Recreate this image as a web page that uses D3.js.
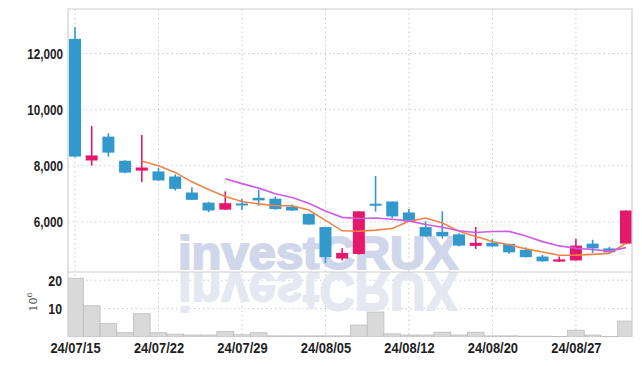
<!DOCTYPE html>
<html>
<head>
<meta charset="utf-8">
<style>
  body { margin: 0; background: #fff; }
  svg { display: block; }
  .tick text { font-family: "Liberation Sans", Arial, sans-serif; font-weight: bold; font-size: 15px; fill: #1e1e1e; }
  .axis .domain { display: none; }
  .grid line { stroke: #c5cade; stroke-dasharray: 1.5,3; }
</style>
</head>
<body>
<script src="https://cdn.jsdelivr.net/npm/d3@7"></script>
<script>

// daily prices
var dates = ["24/07/15","24/07/16","24/07/17","24/07/18","24/07/19",
  "24/07/22","24/07/23","24/07/24","24/07/25","24/07/26",
  "24/07/29","24/07/30","24/07/31","24/08/01","24/08/02",
  "24/08/05","24/08/06","24/08/07","24/08/08","24/08/09",
  "24/08/12","24/08/13","24/08/14","24/08/16",
  "24/08/19","24/08/20","24/08/21","24/08/22","24/08/23",
  "24/08/26","24/08/27","24/08/28","24/08/29","24/08/30"];
var open  = [12520,8190,9040,8180,7830,7800,7620,7050,6690,6440,6660,6860,6830,6550,6290,5820,4700,4860,6650,6730,6340,5820,5650,5560,5150,5260,5220,5010,4770,4590,4630,5230,5060,5230];
var close = [8330,8370,8470,7760,7940,7480,7180,6790,6410,6670,6590,6770,6460,6410,5910,4750,4900,6380,6610,6200,6020,5490,5490,5160,5260,5130,4920,4750,4600,4670,5160,5060,4920,6410];
var high  = [12930,9420,9160,8200,9100,7920,7690,7240,6720,7090,6820,7150,6910,6620,6300,5830,5070,6380,7640,6730,6460,6020,6380,5600,5820,5390,5230,5090,4830,4770,5400,5370,5110,6410];
var low   = [8300,8010,8330,7740,7420,7470,7120,6790,6350,6430,6430,6580,6440,6390,5900,4540,4630,4840,6370,6140,6000,5470,5410,5130,5040,5120,4870,4740,4590,4580,4630,4900,4900,5220];
// volume in millions
var volume = [20.7,11.0,4.7,1.5,8.2,1.5,1.0,0.7,0.7,1.9,0.8,1.5,0.4,0.4,0.4,0.4,0.4,4.2,8.8,1.1,0.7,0.7,1.7,0.7,1.7,0.4,0.4,0.3,0.3,0.2,2.4,0.7,0.2,5.6];

var dateTicks = ["24/07/15","24/07/22","24/07/29","24/08/05","24/08/12","24/08/20","24/08/27"];
var priceTicks = [6000, 8000, 10000, 12000];
var volTicks = [10, 20];

var W = 642, H = 366;
var L = 68, R = 632, T = 9, M = 272, B = 337;

var up = "#e5186b", down = "#3398cc";

var svg = d3.select("body").append("svg").attr("width", W).attr("height", H);

var x = d3.scalePoint().domain(dates).range([75, 626]);
var step = x.step();
var y = d3.scaleLinear().domain([4220, 13584]).range([M, T]);
var yv = d3.scaleLinear().domain([0, 22.9]).range([B, M]);

var defs = svg.append("defs");
defs.append("clipPath").attr("id", "clipMain")
  .append("rect").attr("x", L).attr("y", T).attr("width", R - L).attr("height", M - T);
defs.append("clipPath").attr("id", "clipVol")
  .append("rect").attr("x", L).attr("y", M).attr("width", R - L).attr("height", B - M);

// grids
var grid = svg.append("g").attr("class", "grid");
grid.selectAll(".vg").data(dateTicks).enter().append("line")
  .attr("x1", d => x(d)).attr("x2", d => x(d)).attr("y1", T).attr("y2", B);
grid.selectAll(".hg").data(priceTicks).enter().append("line")
  .attr("x1", L).attr("x2", R).attr("y1", d => y(d)).attr("y2", d => y(d));
grid.selectAll(".vhg").data(volTicks).enter().append("line")
  .attr("x1", L).attr("x2", R).attr("y1", d => yv(d)).attr("y2", d => yv(d));

// watermark + its reflection
var wm = svg.append("g");
wm.append("g").attr("clip-path", "url(#clipVol)")
  .append("text")
  .attr("transform", "translate(318,272.5) scale(1,-1.18)")
  .attr("text-anchor", "middle")
  .attr("textLength", 280).attr("lengthAdjust", "spacingAndGlyphs")
  .style("font-family", "Liberation Sans, Arial, sans-serif").style("font-weight", "bold")
  .style("font-size", "46px").style("fill", "#e5e8f1")
  .style("stroke", "#e5e8f1").style("stroke-width", 1.5)
  .text("investCRUX");
wm.append("g").attr("clip-path", "url(#clipMain)")
  .append("text")
  .attr("x", 318).attr("y", 268.5)
  .attr("text-anchor", "middle")
  .attr("textLength", 280).attr("lengthAdjust", "spacingAndGlyphs")
  .style("font-family", "Liberation Sans, Arial, sans-serif").style("font-weight", "bold")
  .style("font-size", "46px").style("fill", "#d1d7ea")
  .style("stroke", "#d1d7ea").style("stroke-width", 2)
  .text("investCRUX");

// volume bars
svg.append("g").attr("clip-path", "url(#clipVol)")
  .selectAll("rect").data(volume).enter().append("rect")
  .attr("x", (d, i) => x(dates[i]) - step / 2)
  .attr("width", step)
  .attr("y", d => yv(d))
  .attr("height", d => B - yv(d))
  .style("fill", "#d9d9d9").style("stroke", "#bdbdbd").style("stroke-width", 0.8);

// candles
var main = svg.append("g").attr("clip-path", "url(#clipMain)");
var candles = main.selectAll(".c").data(dates).enter().append("g");
candles.append("line")
  .attr("x1", d => x(d)).attr("x2", d => x(d))
  .attr("y1", (d, i) => y(high[i])).attr("y2", (d, i) => y(low[i]))
  .style("stroke", (d, i) => close[i] >= open[i] ? up : down)
  .style("stroke-width", 1.6);
candles.append("rect")
  .attr("x", d => x(d) - 6).attr("width", 12)
  .attr("y", (d, i) => y(Math.max(open[i], close[i])))
  .attr("height", (d, i) => Math.max(2, Math.abs(y(open[i]) - y(close[i]))))
  .style("fill", (d, i) => close[i] >= open[i] ? up : down);

// moving averages
function ma(n) {
  return close.map((c, i) => i < n - 1 ? null : d3.mean(close.slice(i - n + 1, i + 1)));
}
var ma5 = ma(5), ma10 = ma(10);
var line = d3.line().defined(d => d[1] != null).x(d => x(d[0])).y(d => y(d[1]));
main.append("path").datum(dates.map((d, i) => [d, ma5[i]]))
  .attr("d", line).style("fill", "none").style("stroke", "#ef8447").style("stroke-width", 1.6);
main.append("path").datum(dates.map((d, i) => [d, ma10[i]]))
  .attr("d", line).style("fill", "none").style("stroke", "#cc5ce6").style("stroke-width", 1.6);

// frame
svg.append("path")
  .attr("d", "M" + L + "," + B + "V" + T + "H" + R + "V" + B)
  .style("fill", "none").style("stroke", "#cfcfcf").style("stroke-width", 1.2);
svg.append("line").attr("x1", L).attr("x2", R).attr("y1", M).attr("y2", M)
  .style("stroke", "#cfcfcf").style("stroke-width", 1.2);

// axes (labels narrowed to match condensed look)
function narrow(sel, k) {
  sel.selectAll(".tick text").each(function() {
    var w = this.getComputedTextLength();
    d3.select(this).attr("textLength", w * k).attr("lengthAdjust", "spacingAndGlyphs");
  });
}
svg.append("g").attr("class", "axis")
  .attr("transform", "translate(" + (L - 3) + ",0)")
  .call(d3.axisLeft(y).tickValues(priceTicks).tickSize(0).tickPadding(2).tickFormat(d3.format(",")))
  .call(narrow, 0.78);
svg.append("g").attr("class", "axis")
  .attr("transform", "translate(" + (L - 4) + ",0)")
  .call(d3.axisLeft(yv).tickValues(volTicks).tickSize(0).tickPadding(2))
  .call(narrow, 0.82);
svg.append("g").attr("class", "axis")
  .attr("transform", "translate(0," + (B + 3) + ")")
  .call(d3.axisBottom(x).tickValues(dateTicks).tickSize(0).tickPadding(2))
  .call(narrow, 0.86);

// volume unit
var unit = svg.append("text")
  .attr("transform", "translate(37,302) rotate(-90)")
  .attr("text-anchor", "middle")
  .style("font-family", "DejaVu Serif, serif").style("font-size", "11px").style("fill", "#444");
unit.append("tspan").text("10");
unit.append("tspan").attr("dy", -5).style("font-size", "8px").text("6");

</script>
</body>
</html>
